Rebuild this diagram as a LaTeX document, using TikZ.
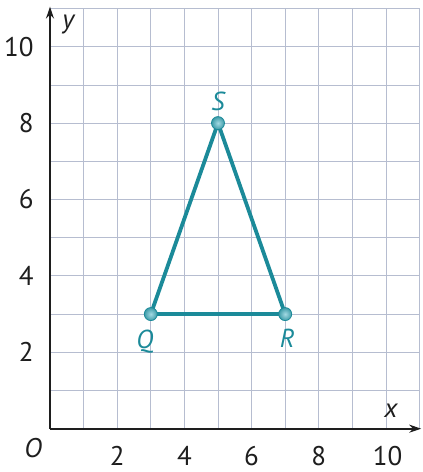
\documentclass[tikz,border=0pt]{standalone}
\usepackage{fontspec}
\setmainfont{PT Sans}
\usetikzlibrary{arrows.meta,positioning}
\definecolor{ink}{HTML}{1E1E1E}
\definecolor{gridc}{HTML}{B6BDD0}
\definecolor{triline}{HTML}{1B8A99}
\definecolor{dotc}{HTML}{7CCAD8}
\begin{document}
\begin{tikzpicture}[x=33.6pt,y=38.2pt,
  tick/.style={font=\fontsize{27}{30}\selectfont,text=ink,inner sep=0pt},
  axlab/.style={font=\itshape\fontsize{27}{30}\selectfont,text=ink,inner sep=0pt},
  vlab/.style={font=\itshape\fontsize{26}{28}\selectfont,text=triline,inner sep=0pt},
  vdot/.style={circle,draw=triline,line width=0.8pt,inner color=dotc!70!white,outer color=triline!85!white,minimum size=13pt,inner sep=0pt}]
\useasboundingbox (-1.488,-1.134) rectangle (11.101,11.223);
\draw[gridc,line width=0.8pt,xstep=33.6pt,ystep=38.2pt] (0,0) grid (11,11);
\coordinate (orig) at (0,0);
\coordinate (xend) at (11.05,0);
\coordinate (yend) at (0,11.05);
\draw[ink,line width=1.8pt,-{Stealth[length=12pt,width=8pt]}] (orig) -- (xend);
\draw[ink,line width=1.8pt,-{Stealth[length=12pt,width=8pt]}] (orig) -- (yend);
\node[axlab] (xlab) at (10.15,0.46) {x};
\node[axlab] (ylab) at (0.545,10.57) {y};
\node[axlab] (olab) at (-0.5,-0.5) {O};
\node[tick] (xt2) at (2,-0.72) {2};
\node[tick] (xt4) at (4,-0.72) {4};
\node[tick] (xt6) at (6,-0.72) {6};
\node[tick] (xt8) at (8,-0.72) {8};
\node[tick] (xt10) at (10.05,-0.72) {10};
\node[tick,anchor=east] (yt2) at (-0.48,2) {2};
\node[tick,anchor=east] (yt4) at (-0.48,4) {4};
\node[tick,anchor=east] (yt6) at (-0.48,6) {6};
\node[tick,anchor=east] (yt8) at (-0.48,8) {8};
\node[tick,anchor=east] (yt10) at (-0.48,10) {10};
% triangle QRS
\coordinate (q) at (3,3);
\coordinate (r) at (7,3);
\coordinate (s) at (5,8);
\draw[triline,line width=3.8pt,line join=round] (q) -- (r) -- (s) -- cycle;
\node[vdot] (Q) at (q) {};
\node[vdot] (R) at (r) {};
\node[vdot] (S) at (s) {};
\node[vlab] (labQ) at (2.82,2.27) {Q};
\node[vlab] (labR) at (7.06,2.37) {R};
\node[vlab] (labS) at (5,8.57) {S};
\end{tikzpicture}
\end{document}
